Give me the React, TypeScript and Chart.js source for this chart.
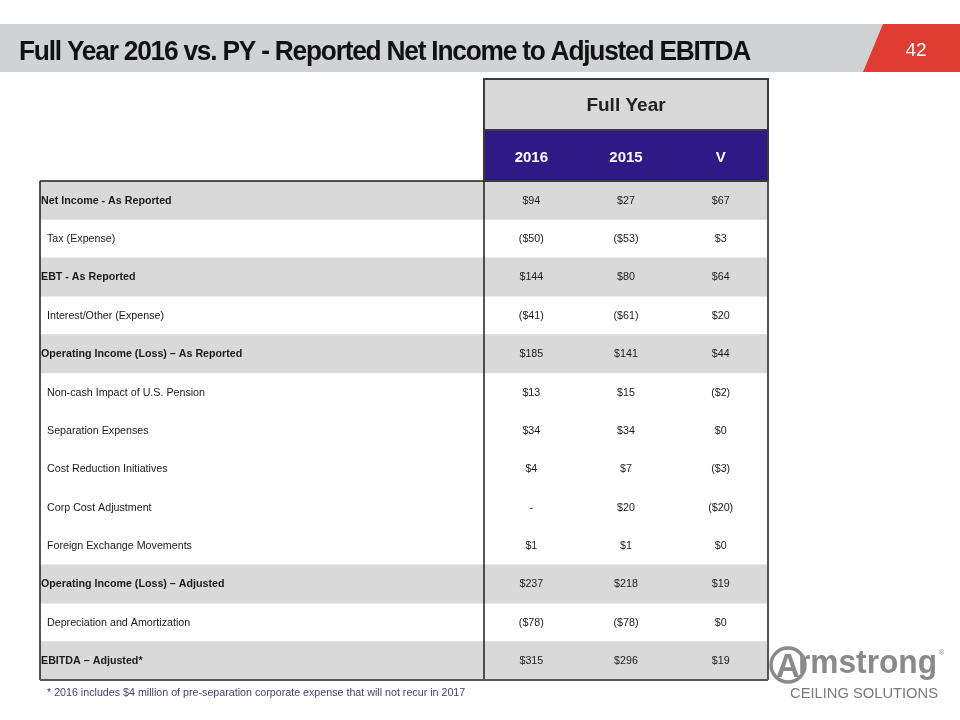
import { useEffect, useRef } from "react";
import { Chart, registerables } from "chart.js";

Chart.register(...registerables);

const title = "Full Year 2016 vs. PY - Reported Net Income to Adjusted EBITDA";
const pageNumber = "42";
const groupHeader = "Full Year";
const columnHeaders = ["2016", "2015", "V"];
const footnote = "* 2016 includes $4 million of pre-separation corporate expense that will not recur in 2017";

const rowLabels = [
  "Net Income - As Reported",
  "Tax (Expense)",
  "EBT - As Reported",
  "Interest/Other (Expense)",
  "Operating Income (Loss) \u2013 As Reported",
  "Non-cash Impact of U.S. Pension",
  "Separation Expenses",
  "Cost Reduction Initiatives",
  "Corp Cost Adjustment",
  "Foreign Exchange Movements",
  "Operating Income (Loss) \u2013 Adjusted",
  "Depreciation and Amortization",
  "EBITDA \u2013 Adjusted*",
];
const subtotalRows = [true, false, true, false, true, false, false, false, false, false, true, false, true];
const values2016: (number | null)[] = [94, -50, 144, -41, 185, 13, 34, 4, null, 1, 237, -78, 315];
const values2015: (number | null)[] = [27, -53, 80, -61, 141, 15, 34, 7, 20, 1, 218, -78, 296];
const variance: (number | null)[] = [67, 3, 64, 20, 44, -2, 0, -3, -20, 0, 19, 0, 19];

const X_MIN = -4.69;
const X_MAX = 3;
const FONT = "'Liberation Sans', Arial, sans-serif";

function fmt(v: number | null): string {
  if (v === null) return "-";
  return v < 0 ? `($${-v})` : `$${v}`;
}

const tablePlugin = {
  id: "tablePlugin",
  beforeDraw(chart: any) {
    const ctx = chart.ctx as CanvasRenderingContext2D;
    ctx.save();
    ctx.fillStyle = "#ffffff";
    ctx.fillRect(0, 0, chart.width, chart.height);
    // title band
    ctx.fillStyle = "#d1d2d4";
    ctx.fillRect(0, 24, 890, 48);
    ctx.fillStyle = "#e03c31";
    ctx.beginPath();
    ctx.moveTo(883, 24);
    ctx.lineTo(960, 24);
    ctx.lineTo(960, 72);
    ctx.lineTo(863, 72);
    ctx.closePath();
    ctx.fill();
    // title text
    ctx.fillStyle = "#111111";
    ctx.font = `bold 28px ${FONT}`;
    (ctx as any).letterSpacing = "-1.3px";
    ctx.textBaseline = "alphabetic";
    ctx.textAlign = "left";
    const w = ctx.measureText(title).width;
    ctx.translate(19, 60);
    ctx.scale(731 / w, 1);
    ctx.fillText(title, 0, 0);
    (ctx as any).letterSpacing = "0px";
    ctx.restore();
    ctx.save();
    ctx.fillStyle = "#ffffff";
    ctx.font = `19px ${FONT}`;
    ctx.textAlign = "center";
    ctx.textBaseline = "alphabetic";
    ctx.fillText(pageNumber, 916, 56);
    ctx.restore();
  },
  afterDatasetsDraw(chart: any) {
    const ctx = chart.ctx as CanvasRenderingContext2D;
    const xs = chart.scales.x;
    const ys = chart.scales.y;
    const area = chart.chartArea;
    const left = area.left;
    const colL = xs.getPixelForValue(0);
    const colR = xs.getPixelForValue(X_MAX);
    const top = area.top;
    const bottom = area.bottom;
    ctx.save();
    // group header
    ctx.fillStyle = "#d9d9d9";
    ctx.fillRect(colL, 79, colR - colL, 51);
    ctx.fillStyle = "#2e1a87";
    ctx.fillRect(colL, 130, colR - colL, top - 130);
    ctx.fillStyle = "#222222";
    ctx.font = `bold 19px ${FONT}`;
    ctx.textAlign = "center";
    ctx.textBaseline = "middle";
    ctx.fillText(groupHeader, (colL + colR) / 2, 106);
    ctx.fillStyle = "#ffffff";
    ctx.font = `bold 15px ${FONT}`;
    columnHeaders.forEach((h, i) => {
      ctx.fillText(h, xs.getPixelForValue(i + 0.5), 158);
    });
    // rows
    const cols = [values2016, values2015, variance];
    rowLabels.forEach((label, r) => {
      const y = ys.getPixelForValue(r) + 0.5;
      ctx.fillStyle = "#1a1a1a";
      ctx.textAlign = "left";
      if (subtotalRows[r]) {
        ctx.font = `bold 10.7px ${FONT}`;
        ctx.fillText(label, left + 1, y);
      } else {
        ctx.font = `10.7px ${FONT}`;
        ctx.fillText(label, left + 7, y);
      }
      ctx.font = `10.7px ${FONT}`;
      ctx.textAlign = "center";
      cols.forEach((c, i) => {
        ctx.fillText(fmt(c[r]), xs.getPixelForValue(i + 0.5), y);
      });
    });
    // borders
    ctx.strokeStyle = "#3a3a3a";
    ctx.lineWidth = 2;
    ctx.strokeRect(colL, 79, colR - colL, top - 79);
    ctx.beginPath();
    ctx.moveTo(colL, 130);
    ctx.lineTo(colR, 130);
    ctx.stroke();
    ctx.strokeStyle = "#1e1e1e";
    ctx.lineWidth = 1.5;
    ctx.beginPath();
    ctx.moveTo(left, top);
    ctx.lineTo(colL, top);
    ctx.moveTo(left, top);
    ctx.lineTo(left, bottom);
    ctx.moveTo(colL, top);
    ctx.lineTo(colL, bottom);
    ctx.stroke();
    ctx.strokeStyle = "#555555";
    ctx.lineWidth = 2;
    ctx.beginPath();
    ctx.moveTo(left, bottom);
    ctx.lineTo(colR, bottom);
    ctx.moveTo(colR, top);
    ctx.lineTo(colR, bottom);
    ctx.stroke();
    // footnote
    ctx.fillStyle = "#463d78";
    ctx.font = `10.7px ${FONT}`;
    ctx.textAlign = "left";
    ctx.textBaseline = "middle";
    ctx.fillText(footnote, 47, 693);
    // logo
    ctx.strokeStyle = "#8a8a8c";
    ctx.lineWidth = 3.5;
    ctx.beginPath();
    ctx.arc(788, 665, 17, 0, Math.PI * 2);
    ctx.stroke();
    ctx.fillStyle = "#8a8a8c";
    ctx.font = `bold 33px ${FONT}`;
    ctx.textAlign = "center";
    ctx.textBaseline = "alphabetic";
    ctx.fillText("A", 788, 677);
    ctx.textAlign = "left";
    const rw = ctx.measureText("rmstrong").width;
    ctx.save();
    ctx.translate(798, 673);
    ctx.scale(139 / rw, 1);
    ctx.fillText("rmstrong", 0, 0);
    ctx.restore();
    ctx.font = `7px ${FONT}`;
    ctx.fillText("\u00ae", 939, 655);
    ctx.fillStyle = "#7a7a7c";
    ctx.font = `15px ${FONT}`;
    const cw = ctx.measureText("CEILING SOLUTIONS").width;
    ctx.save();
    ctx.translate(790, 694);
    ctx.scale(148 / cw, 1);
    ctx.textBaseline = "middle";
    ctx.fillText("CEILING SOLUTIONS", 0, 0);
    ctx.restore();
    ctx.restore();
  },
};

export default function App() {
  const ref = useRef<HTMLCanvasElement | null>(null);
  useEffect(() => {
    document.body.style.margin = "0";
    if (!ref.current) return;
    const chart = new Chart(ref.current, {
      type: "bar",
      data: {
        labels: rowLabels,
        datasets: [
          {
            label: "shading",
            data: subtotalRows.map((s) => (s ? [X_MIN, X_MAX] : null)) as any,
            backgroundColor: "#d9d9d9",
            borderWidth: 0,
            barPercentage: 1,
            categoryPercentage: 1,
          },
        ],
      },
      options: {
        indexAxis: "y",
        responsive: false,
        animation: false,
        maintainAspectRatio: false,
        layout: { padding: { left: 40, right: 192, top: 181, bottom: 40 } },
        plugins: { legend: { display: false }, tooltip: { enabled: false }, title: { display: false } },
        scales: {
          x: { type: "linear", min: X_MIN, max: X_MAX, display: false },
          y: { type: "category", display: false, offset: true },
        },
      },
      plugins: [tablePlugin],
    });
    return () => chart.destroy();
  }, []);
  return (
    <div style={{ width: 960, height: 720 }}>
      <canvas ref={ref} width={960} height={720} style={{ display: "block" }} />
    </div>
  );
}
